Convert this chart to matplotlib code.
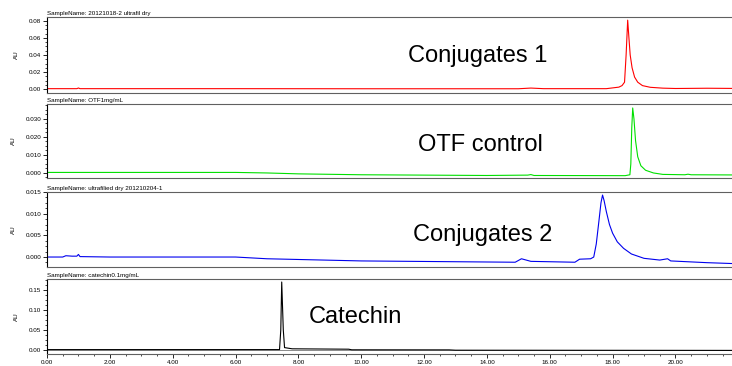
import numpy as np
import matplotlib
matplotlib.use("Agg")
import matplotlib.pyplot as plt
from matplotlib.ticker import MultipleLocator, FormatStrFormatter

plt.rcParams['font.family'] = ['Liberation Sans', 'DejaVu Sans']

# sample names shown above each trace
titles = ["SampleName: 20121018-2 ultrafil dry",
          "SampleName: OTF1mg/mL",
          "SampleName: ultrafilied dry 201210204-1",
          "SampleName: catechin0.1mg/mL"]
labels = ["Conjugates 1", "OTF control", "Conjugates 2", "Catechin"]
colors = ["#ff0000", "#00e000", "#0000ee", "#000000"]

# retention time (min) / absorbance (AU)
t1 = [0, 0.95, 1.0, 1.05, 3, 6, 10, 15.0, 15.4, 15.8, 17.8, 18.2, 18.3, 18.38,
      18.43, 18.48, 18.52, 18.56, 18.62, 18.7, 18.8, 18.95, 19.2, 19.6, 20, 21, 21.8]
a1 = [0.0004, 0.0004, 0.0012, 0.0004, 0.0004, 0.0004, 0.0003, 0.0003, 0.0011,
      0.0004, 0.0004, 0.0022, 0.004, 0.008, 0.04, 0.081, 0.06, 0.04, 0.025,
      0.014, 0.008, 0.004, 0.002, 0.001, 0.0006, 0.0009, 0.0007]

t2 = [0, 6, 7, 8, 10, 14, 15.3, 15.4, 15.5, 18.4, 18.55, 18.58, 18.61, 18.64,
      18.68, 18.73, 18.8, 18.9, 19.05, 19.3, 19.6, 20.3, 20.4, 20.5, 21.8]
a2 = [0.0003, 0.0003, 0.0, -0.0005, -0.001, -0.0014, -0.0012, -0.0009, -0.0014,
      -0.0015, -0.001, 0.005, 0.025, 0.0361, 0.03, 0.018, 0.009, 0.004, 0.0015,
      0.0, -0.0008, -0.001, -0.0007, -0.001, -0.0011]

t3 = [0, 0.5, 0.6, 0.8, 0.95, 1.0, 1.05, 2, 6, 7, 10, 14.9, 15.1, 15.4, 16.8,
      16.95, 17.3, 17.4, 17.48, 17.56, 17.63, 17.68, 17.73, 17.8, 17.9, 18.0,
      18.15, 18.35, 18.6, 19.0, 19.5, 19.75, 19.85, 21, 21.8]
a3 = [0.0, 0.0, 0.0003, 0.0002, 0.0002, 0.0006, 0.0001, 0.0, 0.0, -0.0004,
      -0.0009, -0.0012, -0.0004, -0.001, -0.0012, -0.0005, -0.0004, 0.0,
      0.003, 0.008, 0.0125, 0.0143, 0.013, 0.0105, 0.0075, 0.0055, 0.0035,
      0.002, 0.0007, -0.0003, -0.0007, -0.0004, -0.0009, -0.0013, -0.0015]

t4 = [0, 7.4, 7.44, 7.47, 7.52, 7.56, 7.8, 9.6, 9.7, 12.8, 13, 21.8]
a4 = [0.001, 0.001, 0.05, 0.17, 0.05, 0.006, 0.003, 0.002, 0.0005, 0.0003,
      -0.0005, -0.001]

times = [t1, t2, t3, t4]
values = [a1, a2, a3, a4]
ylims = [(-0.0047, 0.0847), (-0.0028, 0.0383), (-0.0023, 0.015), (-0.01, 0.1775)]
ymajor = [0.02, 0.01, 0.005, 0.05]
yminor = [0.005, 0.0025, 0.00125, 0.0125]
yfmt = ["%.2f", "%.3f", "%.3f", "%.2f"]
# panel frames in pixels (top, bottom)
frames = [(17, 93), (104, 178), (192, 267), (279, 354)]
text_pos = [(408, 62), (418, 151), (413, 241), (309, 323)]

W, H = 732, 366
fig = plt.figure(figsize=(W / 100, H / 100), dpi=100)

for i in range(4):
    top, bot = frames[i]
    ax = fig.add_axes([47 / W, 1 - bot / H, 1 - 47 / W, (bot - top) / H])
    ax.plot(times[i], values[i], color=colors[i], lw=0.8)
    if i == 3:
        ax.axhline(0, color="#777777", lw=0.6, zorder=0)
    ax.set_xlim(0, 21.8)
    ax.set_ylim(*ylims[i])
    ax.yaxis.set_major_locator(MultipleLocator(ymajor[i]))
    ax.yaxis.set_minor_locator(MultipleLocator(yminor[i]))
    ax.yaxis.set_major_formatter(FormatStrFormatter(yfmt[i]))
    ax.xaxis.set_major_locator(MultipleLocator(2))
    ax.xaxis.set_minor_locator(MultipleLocator(0.5))
    ax.xaxis.set_major_formatter(FormatStrFormatter("%.2f"))
    ax.tick_params(axis="y", which="major", labelsize=4.5, length=3, width=0.6, pad=1)
    ax.tick_params(axis="y", which="minor", length=1.5, width=0.5)
    if i < 3:
        ax.tick_params(axis="x", which="both", bottom=False, labelbottom=False)
    else:
        ax.tick_params(axis="x", which="major", labelsize=4.5, length=3, width=0.6, pad=1.5)
        ax.tick_params(axis="x", which="minor", length=1.5, width=0.5)
    ax.spines["right"].set_visible(False)
    ax.spines["left"].set_color("black")
    ax.spines["left"].set_linewidth(0.8)
    for s in ("top", "bottom"):
        ax.spines[s].set_color("#606060")
        ax.spines[s].set_linewidth(0.8)
    ax.set_ylabel("AU", fontsize=4.5, labelpad=7)
    ax.text(0, 1.01, titles[i], transform=ax.transAxes, fontsize=4.5,
            ha="left", va="bottom")
    tx, ty = text_pos[i]
    fig.text(tx / W, 1 - ty / H, labels[i], fontsize=17, ha="left", va="baseline")

fig.savefig("out.png", dpi=100)
